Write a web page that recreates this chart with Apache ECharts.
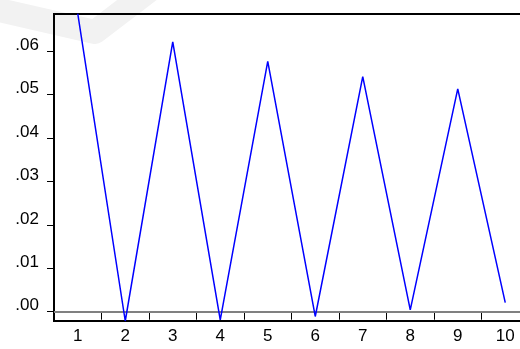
<!DOCTYPE html>
<html>
<head>
<meta charset="utf-8">
<script src="https://cdn.jsdelivr.net/npm/echarts@6/dist/echarts.min.js"></script>
<style>html,body{margin:0;padding:0;background:#fff}#c{width:520px;height:349px}</style>
</head>
<body>
<div id="c"></div>
<script>
var categories = ['1','2','3','4','5','6','7','8','9','10'];
var values = [0.0686, -0.00214, 0.0621, -0.0019, 0.0576, -0.0011, 0.0541, 0.0004, 0.0513, 0.0021];
var yTicks = [0, 0.01, 0.02, 0.03, 0.04, 0.05, 0.06];
var yMin = -0.00214, yMax = 0.06853;

var chart = echarts.init(document.getElementById('c'), null, {renderer: 'canvas'});
chart.setOption({
  backgroundColor: '#fff',
  animation: false,
  graphic: [{
    type: 'polyline', z: -10, silent: true,
    shape: {points: [[-10, 8], [95, 32], [150, -10]]},
    style: {stroke: '#f2f2f2', lineWidth: 24, fill: null, lineJoin: 'round'}
  }],
  grid: {left: 54, top: 14, width: 475, height: 307, outerBoundsMode: 'none', containLabel: false,
         show: true, borderColor: '#000', borderWidth: 2, backgroundColor: 'transparent'},
  xAxis: {
    type: 'category', data: categories, boundaryGap: true,
    axisLine: {lineStyle: {color: '#000', width: 2}},
    axisTick: {show: true, length: 8, alignWithLabel: false, lineStyle: {color: '#000', width: 1}},
    axisLabel: {color: '#000', fontFamily: 'Liberation Sans, Arial', fontSize: 17, margin: 7},
    splitLine: {show: false}
  },
  yAxis: {
    type: 'value', min: yMin, max: yMax,
    axisLine: {show: true, lineStyle: {color: '#000', width: 2}},
    axisTick: {show: true, length: 7, customValues: yTicks, lineStyle: {color: '#000', width: 1}},
    axisLabel: {
      customValues: yTicks, color: '#000', fontFamily: 'Liberation Sans, Arial', fontSize: 17, margin: 15,
      verticalAlign: 'bottom', lineHeight: 12,
      formatter: function (v) { return v.toFixed(2).replace(/^0/, ''); }
    },
    splitLine: {show: false}
  },
  series: [{
    type: 'line', data: values, symbol: 'none', clip: true,
    lineStyle: {color: '#0000ff', width: 1.5},
    markLine: {
      silent: true, symbol: 'none', label: {show: false},
      lineStyle: {color: '#808080', width: 2, type: 'solid'},
      data: [{yAxis: 0}], z: 1
    }
  }]
});
</script>
</body>
</html>
